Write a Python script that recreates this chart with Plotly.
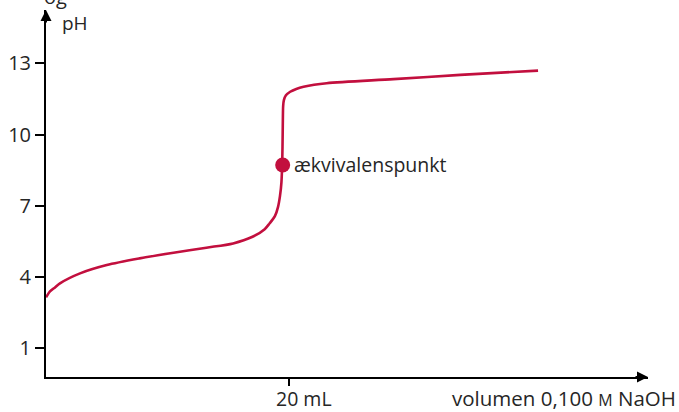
import plotly.graph_objects as go

# Titration curve
volume_ml = [0, 0.33, 0.74, 1.15, 2.8, 5.0, 7.7, 10.5, 13.2, 15.4, 17.0, 18.0, 18.4, 18.85, 19.1,
             19.26, 19.38, 19.45, 19.48, 19.5, 19.52, 19.58, 19.75, 20.1, 20.6, 21.2, 23.1,
             28.6, 34.1, 40.5]
ph_values = [3.15, 3.40, 3.57, 3.74, 4.16, 4.51, 4.79, 5.03, 5.24, 5.42, 5.70, 6.02, 6.26, 6.58, 6.96,
             7.42, 8.0, 9.0, 10.0, 10.8, 11.2, 11.45, 11.65, 11.8, 11.92, 12.01, 12.16,
             12.33, 12.51, 12.69]

equiv_volume = [19.48]
equiv_ph = [8.72]
equiv_label = "ækvivalenspunkt"

y_ticks = [1, 4, 7, 10, 13]
x_tick = [20]
x_tick_label = "20 mL"
x_title = "volumen 0,100 <span style='font-size:16px'>M</span> NaOH"
y_title = "pH"

RED = "#C20F3E"
FONT = "Open Sans"
TXT = "#262626"
XMAX = 49.55
YMIN = -0.2
YMAX = 15.24

fig = go.Figure()
fig.add_trace(go.Scatter(x=volume_ml, y=ph_values, mode="lines",
                         line=dict(color=RED, width=2.6, shape="spline", smoothing=0.8),
                         hoverinfo="skip", showlegend=False))
fig.add_trace(go.Scatter(x=equiv_volume, y=equiv_ph, mode="markers",
                         marker=dict(color=RED, size=15),
                         showlegend=False))

fig.add_annotation(x=equiv_volume[0], y=equiv_ph[0], text=equiv_label, showarrow=False,
                   xanchor="left", yanchor="middle", xshift=9, yshift=0,
                   font=dict(family=FONT, size=19.5, color=TXT))

# axis arrows
fig.add_annotation(x=XMAX, y=YMIN, ax=-14, ay=0, xref="x", yref="y", text="",
                   showarrow=True, arrowhead=2, arrowsize=1.1, arrowwidth=2, arrowcolor="black")
fig.add_annotation(x=0, y=YMAX, ax=0, ay=14, xref="x", yref="y", text="",
                   showarrow=True, arrowhead=2, arrowsize=1.1, arrowwidth=2, arrowcolor="black")

fig.add_annotation(x=20, y=0, xref="x", yref="paper", text=x_tick_label, showarrow=False,
                   xanchor="left", yanchor="middle", xshift=-14, yshift=-21, borderpad=0,
                   font=dict(family=FONT, size=19.5, color=TXT))
fig.add_annotation(x=1.048, y=0, xref="paper", yref="paper", text=x_title, showarrow=False,
                   xanchor="right", yanchor="middle", yshift=-21, borderpad=0,
                   font=dict(family=FONT, size=20.5, color=TXT))
fig.add_annotation(x=0, y=1, xref="paper", yref="paper", text=y_title, showarrow=False,
                   xanchor="left", yanchor="top", xshift=14, yshift=2,
                   font=dict(family=FONT, size=19, color=TXT))
fig.add_annotation(x=0, y=1, xref="paper", yref="paper", text="og", showarrow=False,
                   xanchor="left", yanchor="bottom", xshift=-4, yshift=-2,
                   font=dict(family=FONT, size=20, color=TXT))

fig.update_layout(
    width=679, height=412,
    margin=dict(l=46, r=31, t=10, b=35, autoexpand=False),
    paper_bgcolor="white", plot_bgcolor="white",
    xaxis=dict(range=[0, XMAX], showgrid=False, zeroline=False, showline=True, automargin=False,
               linecolor="black", linewidth=2, tickvals=x_tick, ticktext=[""],
               ticks="outside", ticklen=7, tickwidth=2, tickcolor="black"),
    yaxis=dict(range=[YMIN, YMAX], showgrid=False, zeroline=False, showline=True, automargin=False,
               linecolor="black", linewidth=2, tickvals=y_ticks,
               ticks="outside", ticklen=9, tickwidth=2, tickcolor="black",
               tickfont=dict(family=FONT, size=20, color=TXT)),
)

fig.write_html("out.html", config={"displayModeBar": False},
               post_script="document.body.style.margin='0';document.body.style.overflow='hidden';")
